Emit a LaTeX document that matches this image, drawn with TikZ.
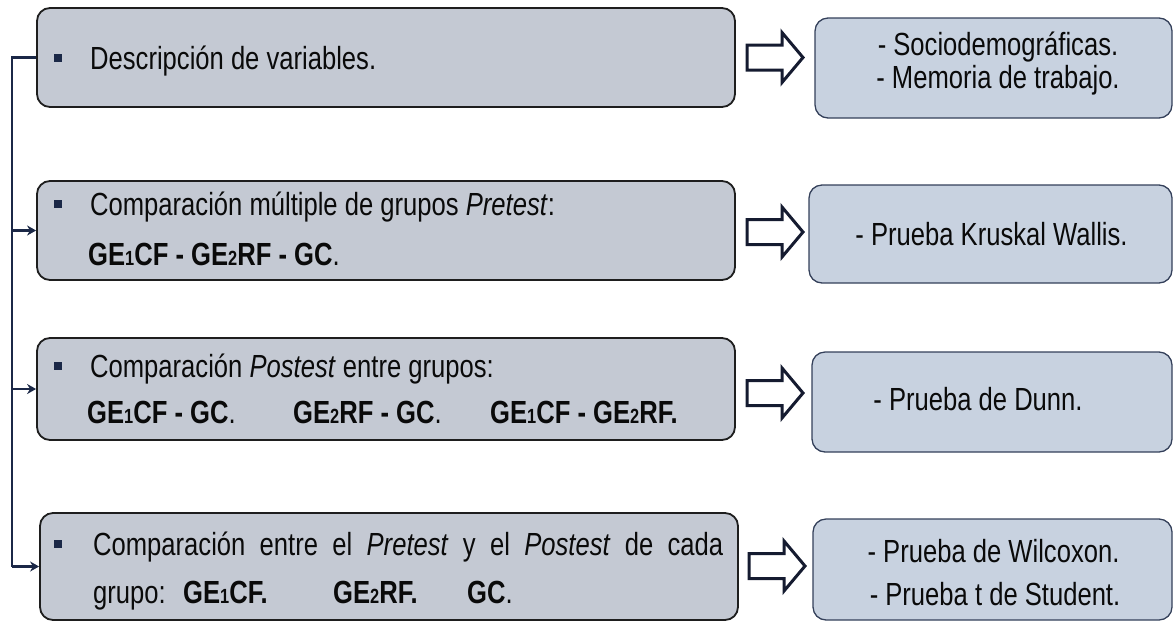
\documentclass[tikz,border=0pt]{standalone}
\usepackage{fontspec}
\setmainfont{Liberation Sans}[FakeStretch=0.8]
\usetikzlibrary{arrows.meta}

\definecolor{leftfill}{HTML}{C4C9D3}
\definecolor{leftdraw}{HTML}{1E1E1E}
\definecolor{rightfill}{HTML}{C8D2E0}
\definecolor{rightdraw}{HTML}{34405A}
\definecolor{navy}{HTML}{1B2847}
\definecolor{arrowdraw}{HTML}{151B30}
\definecolor{textcol}{HTML}{0A0A0A}

% small reduced-size digit used in the group labels
\newcommand\lowdigit[1]{{\fontsize{20.5}{20.5}\selectfont #1}}

\tikzset{
  leftbox/.style={draw=leftdraw, line width=1.8pt, fill=leftfill, rounded corners=13pt,
    minimum width=698pt, inner sep=0pt},
  rightbox/.style={draw=rightdraw, line width=1.3pt, fill=rightfill, rounded corners=13pt,
    inner sep=0pt},
  txt/.style={anchor=base west, inner sep=0pt, text=textcol, font=\fontsize{32}{38}\selectfont},
  ctxt/.style={anchor=base, inner sep=0pt, text=textcol, font=\fontsize{32}{38}\selectfont},
  bulletmark/.style={rectangle, fill=navy, minimum width=7.5pt, minimum height=8pt, inner sep=0pt},
  conn/.style={draw=navy, line width=2.2pt},
  branch/.style={conn, -{Stealth[length=9pt, width=10pt]}},
  hollow/.pic={
    \draw[draw=arrowdraw, fill=white, line width=3pt, line join=miter]
      (0,-12.5) -- (35,-12.5) -- (35,-25) -- (56,0) -- (35,25) -- (35,12.5) -- (0,12.5) -- cycle;
  }
}

\begin{document}
\begin{tikzpicture}[x=1pt, y=-1pt]
\useasboundingbox (0,0) rectangle (1174,622);

% left column: steps of the analysis
\node[leftbox, minimum height=99pt]  (L1) at (386,57.5)  {};
\node[leftbox, minimum height=99pt]  (L2) at (386,230.5) {};
\node[leftbox, minimum height=102pt] (L3) at (386,389)   {};
\node[leftbox, minimum height=107pt] (L4) at (389,566.5) {};

% right column: methods used
\node[rightbox, minimum width=357pt, minimum height=100pt] (R1) at (993.5,68)  {};
\node[rightbox, minimum width=363pt, minimum height=98pt]  (R2) at (990.5,234) {};
\node[rightbox, minimum width=360pt, minimum height=100pt] (R3) at (992,402)   {};
\node[rightbox, minimum width=359pt, minimum height=101pt] (R4) at (992.5,569.5) {};

% hollow block arrows between the columns
\pic (A1) at (747,57.5) {hollow};
\pic (A2) at (747,232)  {hollow};
\pic (A3) at (747,393)  {hollow};
\pic (A4) at (749,566)  {hollow};

% bracket joining the left boxes
\coordinate (trunk) at (12,0);
\draw[conn] (L1.west) -- (L1.west -| trunk) -- (L4.west -| trunk);
\draw[branch] (L2.west -| trunk) -- (L2.west);
\draw[branch] (L3.west -| trunk) -- (L3.west);
\draw[branch] (L4.west -| trunk) -- (L4.west);

% box 1
\node[bulletmark] (b1) at (58,58) {};
\node[txt] (t1) at (90,69.5) {Descripción de variables.};

% box 2
\node[bulletmark] (b2) at (58,204) {};
\node[txt] (t2a) at (90,215) {Comparación múltiple de grupos \textit{Pretest}:};
\node[txt] (t2b) at (88,265) {\textbf{GE\lowdigit{1}CF - GE\lowdigit{2}RF - GC}.};

% box 3
\node[bulletmark] (b3) at (58,366) {};
\node[txt] (t3a) at (90,377) {Comparación \textit{Postest} entre grupos:};
\node[txt] (t3b) at (87,423)  {\textbf{GE\lowdigit{1}CF - GC}.};
\node[txt] (t3c) at (293,423) {\textbf{GE\lowdigit{2}RF - GC}.};
\node[txt] (t3d) at (490,423) {\textbf{GE\lowdigit{1}CF - GE\lowdigit{2}RF.}};

% box 4
\node[bulletmark] (b4) at (58,544) {};
\node[txt] (t4a) at (93,555) {\makebox[630pt][s]{Comparación entre el \textit{Pretest} y el \textit{Postest} de cada}};
\node[txt] (t4b) at (93,603)  {grupo:};
\node[txt] (t4c) at (183,603) {\textbf{GE\lowdigit{1}CF.}};
\node[txt] (t4d) at (333,603) {\textbf{GE\lowdigit{2}RF.}};
\node[txt] (t4e) at (467,603) {\textbf{GC}.};

% right column texts
\node[ctxt] (r1a) at (998,55)  {- Sociodemográficas.};
\node[ctxt] (r1b) at (998,88)  {- Memoria de trabajo.};
\node[ctxt] (r2)  at (991.5,245) {- Prueba Kruskal Wallis.};
\node[ctxt] (r3)  at (978,410) {- Prueba de Dunn.};
\node[ctxt] (r4a) at (993.5,562) {- Prueba de Wilcoxon.};
\node[ctxt] (r4b) at (995,605) {- Prueba t de Student.};
\end{tikzpicture}
\end{document}
